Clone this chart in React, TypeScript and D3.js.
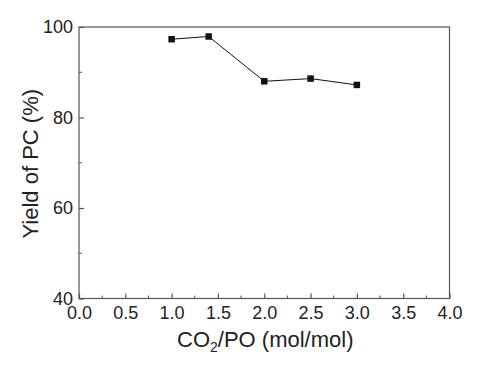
import { useEffect, useRef } from "react";
import * as d3 from "d3";

const ratio = [1.0, 1.4, 2.0, 2.5, 3.0];
const yieldPC = [97.3, 97.9, 88.0, 88.6, 87.2];
const xTicks = [0, 0.5, 1, 1.5, 2, 2.5, 3, 3.5, 4];
const yTicks = [40, 60, 80, 100];

const App = () => {
  const svgRef = useRef<SVGSVGElement>(null);

  useEffect(() => {
    if (!svgRef.current) return;
    const svg = d3.select(svgRef.current);
    svg.selectAll("*").remove();

    const left = 79, right = 449.5, top = 27, bottom = 298.5;
    const font = "'Liberation Sans', Arial, sans-serif";
    const axisColor = "#555";
    const textColor = "#222";

    const x = d3.scaleLinear().domain([0, 4]).range([left, right]);
    const y = d3.scaleLinear().domain([40, 100]).range([bottom, top]);

    svg.append("rect").attr("width", 477).attr("height", 366).attr("fill", "#fff");

    // frame
    svg
      .append("rect")
      .attr("x", left)
      .attr("y", top)
      .attr("width", right - left)
      .attr("height", bottom - top)
      .attr("fill", "none")
      .attr("stroke", axisColor)
      .attr("stroke-width", 1.2);

    // minor ticks
    const xMinor = d3.range(0.25, 4, 0.5);
    svg
      .append("g")
      .selectAll("line")
      .data(xMinor)
      .join("line")
      .attr("x1", (d) => x(d))
      .attr("x2", (d) => x(d))
      .attr("y1", bottom)
      .attr("y2", bottom - 3)
      .attr("stroke", axisColor);
    const yMinor = [50, 70, 90];
    svg
      .append("g")
      .selectAll("line")
      .data(yMinor)
      .join("line")
      .attr("x1", left)
      .attr("x2", left + 3)
      .attr("y1", (d) => y(d))
      .attr("y2", (d) => y(d))
      .attr("stroke", axisColor);

    const xAxis = d3
      .axisBottom(x)
      .tickValues(xTicks)
      .tickSize(-5)
      .tickPadding(8)
      .tickFormat(d3.format(".1f"));
    const gx = svg.append("g").attr("transform", `translate(0,${bottom})`).call(xAxis);

    const yAxis = d3.axisLeft(y).tickValues(yTicks).tickSize(-5).tickPadding(6);
    const gy = svg.append("g").attr("transform", `translate(${left},0)`).call(yAxis);

    [gx, gy].forEach((g) => {
      g.select(".domain").remove();
      g.selectAll(".tick line").attr("stroke", axisColor).attr("stroke-width", 1.2);
      g.selectAll(".tick text")
        .attr("fill", textColor)
        .attr("font-family", font)
        .attr("font-size", 18);
    });

    // line + markers
    const pts = ratio.map((r, i) => [r, yieldPC[i]] as [number, number]);
    svg
      .append("path")
      .datum(pts)
      .attr("fill", "none")
      .attr("stroke", "#111")
      .attr("stroke-width", 1)
      .attr("d", d3.line().x((d) => x(d[0])).y((d) => y(d[1])));

    const s = 6.5;
    svg
      .append("g")
      .selectAll("rect")
      .data(pts)
      .join("rect")
      .attr("x", (d) => x(d[0]) - s / 2)
      .attr("y", (d) => y(d[1]) - s / 2)
      .attr("width", s)
      .attr("height", s)
      .attr("fill", "#111");

    // x title
    const xt = svg
      .append("text")
      .attr("x", (left + right) / 2 + 1)
      .attr("y", 347)
      .attr("text-anchor", "middle")
      .attr("font-family", font)
      .attr("font-size", 22)
      .attr("fill", textColor);
    xt.append("tspan").text("CO");
    xt.append("tspan").attr("font-size", 14).attr("dy", 5).text("2");
    xt.append("tspan").attr("dy", -5).text("/PO (mol/mol)");

    // y title
    svg
      .append("text")
      .attr("transform", `translate(38,${(top + bottom) / 2 + 1}) rotate(-90)`)
      .attr("text-anchor", "middle")
      .attr("font-family", font)
      .attr("font-size", 22)
      .attr("fill", textColor)
      .text("Yield of PC (%)");
  }, []);

  return (
    <svg
      ref={svgRef}
      width={477}
      height={366}
      style={{ position: "absolute", left: 0, top: 0 }}
    />
  );
};

export default App;
